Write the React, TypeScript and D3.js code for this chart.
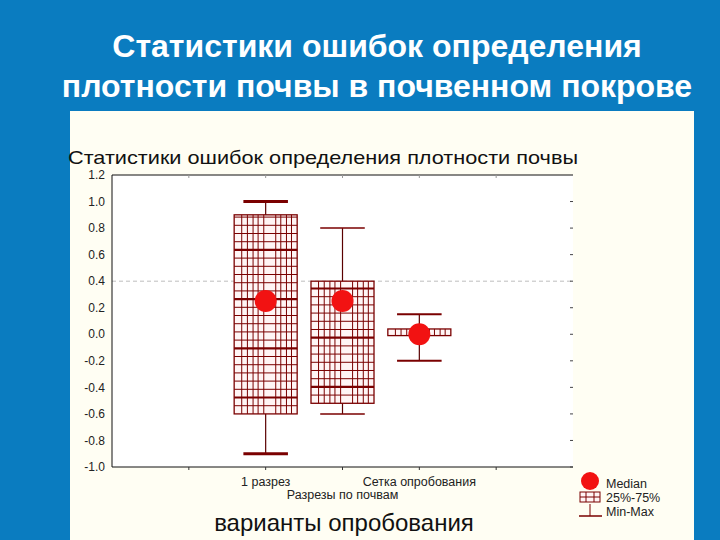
import * as d3 from "d3";

// values
const categories = ["1 разрез", "", "Сетка опробования"];
const medians = [0.25, 0.25, 0.0];
const q25 = [-0.6, -0.52, -0.01];
const q75 = [0.9, 0.4, 0.04];
const mins = [-0.9, -0.6, -0.2];
const maxs = [1.0, 0.8, 0.15];
const yTicks = [1.2, 1.0, 0.8, 0.6, 0.4, 0.2, 0.0, -0.2, -0.4, -0.6, -0.8, -1.0];
const xTicks = [1, 2, 3, 4, 5];
const legendLabels = ["Median", "25%-75%", "Min-Max"];

const W = 720;
const H = 540;
const plot = { left: 112, right: 573, top: 175, bottom: 467 };
const FONT = "'Liberation Sans', Arial, sans-serif";
const DARK = "#7a0000";
const RED = "#f21212";

// vertical hatch positions inside a box, as fractions of its width
const hatchCols = [0.12, 0.21, 0.3, 0.38, 0.47, 0.66, 0.74, 0.83, 0.91];

function App() {
  const x = d3.scaleLinear().domain([0, 6]).range([plot.left, plot.right]);
  const y = d3.scaleLinear().domain([-1.0, 1.2]).range([plot.bottom, plot.top]);
  const pos = (i: number) => x(i + 2);
  const boxW = x(0.82) - x(0);
  const capW = x(0.58) - x(0);

  const capWidths = [3, 1.5, 2];

  return (
    <svg width={W} height={H} style={{ position: "absolute", left: 0, top: 0 }}>
      <rect x={0} y={0} width={W} height={H} fill="#0a7cc0" />
      <text x={377} y={57} textAnchor="middle" fill="#fff" fontFamily={FONT} fontWeight="bold" fontSize={32}>
        Статистики ошибок определения
      </text>
      <text x={377} y={97} textAnchor="middle" fill="#fff" fontFamily={FONT} fontWeight="bold" fontSize={32}>
        плотности почвы в почвенном покрове
      </text>

      <rect x={70} y={111} width={624} height={H - 111} fill="#fffef3" />
      <text x={68} y={164} fontFamily={FONT} fontSize={19} fill="#111" textLength={510} lengthAdjust="spacingAndGlyphs">
        Статистики ошибок определения плотности почвы
      </text>

      <rect x={plot.left} y={plot.top} width={plot.right - plot.left} height={plot.bottom - plot.top} fill="#fff" />

      {/* dashed reference line */}
      <line x1={plot.left} x2={plot.right} y1={y(0.4)} y2={y(0.4)} stroke="#bdbdbd" strokeDasharray="4,3" />

      {/* axes */}
      <line x1={plot.left} x2={plot.right} y1={plot.top} y2={plot.top} stroke="#111" />
      <line x1={plot.left} x2={plot.right} y1={plot.bottom} y2={plot.bottom} stroke="#111" />
      <line x1={plot.left} x2={plot.left} y1={plot.top} y2={plot.bottom} stroke="#111" />
      {xTicks.map((t) => (
        <g key={t}>
          <line x1={x(t)} x2={x(t)} y1={plot.top} y2={plot.top + 3} stroke="#999" />
          <line x1={x(t)} x2={x(t)} y1={plot.bottom} y2={plot.bottom + 3} stroke="#333" />
        </g>
      ))}
      {yTicks.map((t) => (
        <g key={t}>
          <text x={105} y={y(t)} dy="0.35em" textAnchor="end" fontFamily={FONT} fontSize={12} fill="#222">
            {t.toFixed(1)}
          </text>
          {t < 1.1 && <line x1={plot.right - 3} x2={plot.right} y1={y(t)} y2={y(t)} stroke="#444" />}
        </g>
      ))}

      {/* boxes */}
      {categories.map((c, i) => {
        const cx = pos(i);
        const x0 = cx - boxW / 2;
        const yTop = y(q75[i]);
        const yBot = y(q25[i]);
        const rows: number[] = [];
        for (let yy = yBot - 8.2; yy > yTop + 2; yy -= 8.2) rows.push(yy);
        return (
          <g key={i}>
            <line x1={cx} x2={cx} y1={y(maxs[i])} y2={y(mins[i])} stroke="#5a0000" strokeWidth={1.2} />
            <line x1={cx - capW / 2} x2={cx + capW / 2} y1={y(maxs[i])} y2={y(maxs[i])} stroke={DARK} strokeWidth={capWidths[i]} />
            <line x1={cx - capW / 2} x2={cx + capW / 2} y1={y(mins[i])} y2={y(mins[i])} stroke={DARK} strokeWidth={capWidths[i]} />
            <rect x={x0} y={yTop} width={boxW} height={Math.max(yBot - yTop, 0.5)} fill="#fff5f5" stroke={DARK} strokeWidth={1.3} />
            {hatchCols.map((f, j) => (
              <line key={j} x1={x0 + f * boxW} x2={x0 + f * boxW} y1={yTop} y2={yBot} stroke={DARK} strokeWidth={1} />
            ))}
            {rows.map((yy, k) => (
              <line key={k} x1={x0} x2={x0 + boxW} y1={yy} y2={yy} stroke={DARK} strokeWidth={k % 6 === 1 ? 2.2 : 1} />
            ))}
            <circle cx={cx} cy={y(medians[i])} r={11} fill={RED} />
            {c && (
              <text x={cx} y={486} textAnchor="middle" fontFamily={FONT} fontSize={12.5} fill="#222">
                {c}
              </text>
            )}
          </g>
        );
      })}

      <text x={x(3)} y={499} textAnchor="middle" fontFamily={FONT} fontSize={12.5} fill="#222">
        Разрезы по почвам
      </text>
      <text x={344} y={531} textAnchor="middle" fontFamily={FONT} fontSize={24} fill="#111">
        варианты опробования
      </text>

      {/* legend */}
      <g>
        <circle cx={590} cy={481} r={9} fill={RED} />
        <rect x={580} y={492} width={20} height={10} fill="#fff5f5" stroke={DARK} />
        <line x1={580} x2={600} y1={497} y2={497} stroke={DARK} />
        <line x1={586} x2={586} y1={492} y2={502} stroke={DARK} />
        <line x1={594} x2={594} y1={492} y2={502} stroke={DARK} />
        <line x1={590} x2={590} y1={504} y2={516} stroke={DARK} />
        <line x1={579} x2={602} y1={516} y2={516} stroke={DARK} strokeWidth={1.5} />
        {legendLabels.map((l, i) => (
          <text key={l} x={606} y={488 + i * 14} fontFamily={FONT} fontSize={12.5} fill="#222">
            {l}
          </text>
        ))}
      </g>
    </svg>
  );
}

export default App;
